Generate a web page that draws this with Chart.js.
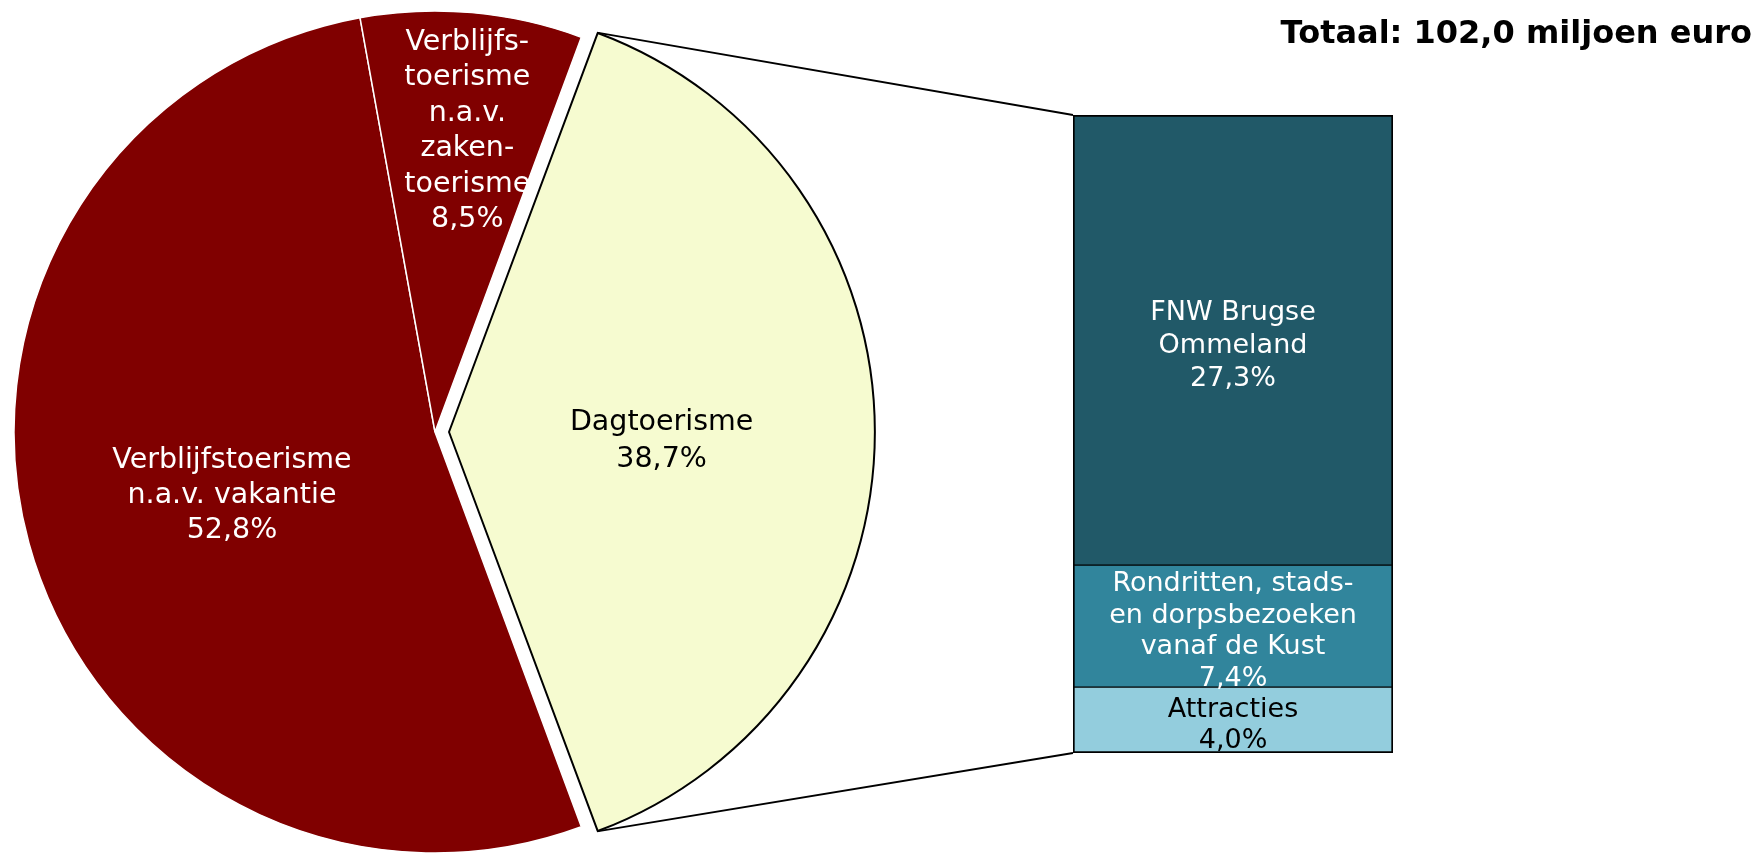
<!DOCTYPE html>
<html>
<head>
<meta charset="utf-8">
<script src="https://cdn.jsdelivr.net/npm/chart.js@4"></script>
<style>
  html, body { margin: 0; padding: 0; background: #ffffff; }
  #wrap { position: relative; width: 1760px; height: 854px; overflow: hidden; }
  #pie { position: absolute; left: 0; top: 0; }
  #bar { position: absolute; left: 1073px; top: 115px; }
  #title {
    position: absolute; right: 8px; top: 13px;
    font: bold 32px "DejaVu Sans", Verdana, sans-serif; color: #000;
    white-space: nowrap; line-height: 38px;
  }
</style>
</head>
<body>
<div id="wrap">
  <canvas id="pie" width="1760" height="854"></canvas>
  <canvas id="bar" width="320" height="638"></canvas>
  <div id="title">Totaal: 102,0 miljoen euro</div>
</div>
<script>
// Spending by type of tourism (share of total, %)
const pieCategories = ['Dagtoerisme', 'Verblijfstoerisme n.a.v. vakantie', 'Verblijfstoerisme n.a.v. zakentoerisme'];
const pieValues = [38.7, 52.8, 8.5];
const pieLabelLines = [
  ['Dagtoerisme'],
  ['Verblijfstoerisme', 'n.a.v. vakantie'],
  ['Verblijfs-', 'toerisme', 'n.a.v.', 'zaken-', 'toerisme']
];

// Breakdown of day tourism (share of total, %), stacked bottom to top
const barCategories = ['Attracties', 'Rondritten, stads- en dorpsbezoeken vanaf de Kust', 'FNW Brugse Ommeland'];
const barValues = [4.0, 7.4, 27.3];
const barLabelLines = [
  ['Attracties'],
  ['Rondritten, stads-', 'en dorpsbezoeken', 'vanaf de Kust'],
  ['FNW Brugse', 'Ommeland']
];

const FONT = '"DejaVu Sans", Verdana, sans-serif';
const fmtPct = v => v.toFixed(1).replace('.', ',') + '%';

const pieColors = ['#F6FBD0', '#800000', '#800000'];
const pieBorders = ['#000000', '#ffffff', '#ffffff'];
const pieTextColors = ['#000000', '#ffffff', '#ffffff'];
const pieLabelRadius = [0.505, 0.5, 0.725];
const pieLabelNudge = [[0, 9.5], [0, 8.5], [5.5, 3]];
const pieLineHeight = [37, 35, 35.5];
const pieShift = [14, 0, 0];          // how far each slice is pulled out, px

const barColors = ['#93CDDD', '#31859C', '#215968'];
const barTextColors = ['#000000', '#ffffff', '#ffffff'];
const barLabelShift = [5.5, 5.5, 5.5];
const barLineHeight = [31.5, 31.5, 33];

function drawLines(ctx, lines, x, y, lineH) {
  const y0 = y - (lines.length - 1) * lineH / 2;
  lines.forEach((t, i) => ctx.fillText(t, x, y0 + i * lineH));
}

// Text inside each stacked segment
const barLabelsPlugin = {
  id: 'barLabels',
  afterDatasetsDraw(chart) {
    const ctx = chart.ctx;
    ctx.save();
    ctx.font = '27px ' + FONT;
    ctx.textAlign = 'center';
    ctx.textBaseline = 'middle';
    chart.data.datasets.forEach((ds, i) => {
      const el = chart.getDatasetMeta(i).data[0];
      const cy = (el.y + el.base) / 2 + barLabelShift[i];
      ctx.fillStyle = barTextColors[i];
      drawLines(ctx, barLabelLines[i].concat([fmtPct(barValues[i])]), el.x, cy, barLineHeight[i]);
    });
    ctx.restore();
  }
};

const barChart = new Chart(document.getElementById('bar'), {
  type: 'bar',
  data: {
    labels: ['Dagtoerisme'],
    datasets: barValues.map((v, i) => ({
      label: barCategories[i],
      data: [v],
      backgroundColor: barColors[i],
      borderColor: '#000000',
      borderSkipped: false,
      borderWidth: {
        left: 2, right: 2,
        top: i === barValues.length - 1 ? 2 : 1,
        bottom: i === 0 ? 2 : 1
      },
      barPercentage: 1,
      categoryPercentage: 1
    }))
  },
  options: {
    responsive: false,
    animation: false,
    devicePixelRatio: 1,
    layout: { padding: 0 },
    plugins: { legend: { display: false }, tooltip: { enabled: false } },
    scales: {
      x: { display: false, stacked: true },
      y: { display: false, stacked: true, min: 0, max: barValues.reduce((a, b) => a + b, 0) }
    }
  },
  plugins: [barLabelsPlugin]
});

// Geometry of a pulled-out arc as Chart.js draws it (offset/4 shift, radius grown by the same amount * fix)
function arcGeometry(el) {
  const mid = (el.startAngle + el.endAngle) / 2;
  const t = (el.options.offset || 0) / 4;
  const fix = 1 - Math.sin(Math.min(Math.PI, el.circumference || 0));
  return {
    mid,
    cx: el.x + t * Math.cos(mid),
    cy: el.y + t * Math.sin(mid),
    r: el.outerRadius + t * fix
  };
}

// Slice labels plus the two connector lines from the detached slice to the bar
const pieExtrasPlugin = {
  id: 'pieExtras',
  afterDatasetsDraw(chart) {
    const ctx = chart.ctx;
    const arcs = chart.getDatasetMeta(0).data;
    ctx.save();

    // connectors
    const a = arcs[0];
    const g = arcGeometry(a);
    const bcv = barChart.canvas;
    const metaTop = barChart.getDatasetMeta(barValues.length - 1).data[0];
    const metaBot = barChart.getDatasetMeta(0).data[0];
    const bx = bcv.offsetLeft + metaTop.x - metaTop.width / 2;
    const byTop = bcv.offsetTop + metaTop.y;
    const byBot = bcv.offsetTop + metaBot.base;
    ctx.strokeStyle = '#000000';
    ctx.lineWidth = 1.8;
    ctx.beginPath();
    ctx.moveTo(g.cx + g.r * Math.cos(a.startAngle), g.cy + g.r * Math.sin(a.startAngle));
    ctx.lineTo(bx, byTop);
    ctx.moveTo(g.cx + g.r * Math.cos(a.endAngle), g.cy + g.r * Math.sin(a.endAngle));
    ctx.lineTo(bx, byBot);
    ctx.stroke();

    // labels
    ctx.font = '28.5px ' + FONT;
    ctx.textAlign = 'center';
    ctx.textBaseline = 'middle';
    arcs.forEach((el, i) => {
      const gi = arcGeometry(el);
      const rr = el.outerRadius * pieLabelRadius[i];
      const x = gi.cx + rr * Math.cos(gi.mid) + pieLabelNudge[i][0];
      const y = gi.cy + rr * Math.sin(gi.mid) + pieLabelNudge[i][1];
      ctx.fillStyle = pieTextColors[i];
      drawLines(ctx, pieLabelLines[i].concat([fmtPct(pieValues[i])]), x, y, pieLineHeight[i]);
    });
    ctx.restore();
  }
};

const pieTotal = pieValues.reduce((a, b) => a + b, 0);
new Chart(document.getElementById('pie'), {
  type: 'pie',
  data: {
    labels: pieCategories,
    datasets: [{
      data: pieValues,
      backgroundColor: pieColors,
      borderColor: pieBorders,
      borderWidth: [2, 1.5, 1.5],
      offset: pieShift.map(s => s * 4)
    }]
  },
  options: {
    responsive: false,
    animation: false,
    devicePixelRatio: 1,
    // centre the detached first slice on the right-hand side
    rotation: 90 - pieValues[0] / pieTotal * 180,
    radius: 421,
    layout: { padding: { left: 0, right: 890, top: 10, bottom: 0 } },
    plugins: { legend: { display: false }, tooltip: { enabled: false } }
  },
  plugins: [pieExtrasPlugin]
});
</script>
</body>
</html>
